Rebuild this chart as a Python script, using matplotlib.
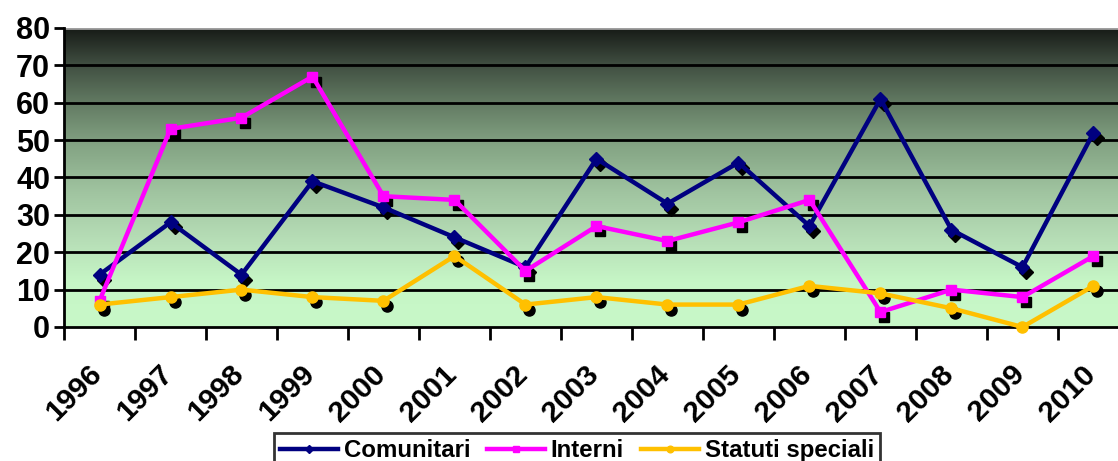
import numpy as np
import matplotlib.pyplot as plt
import matplotlib.transforms as mtransforms
from matplotlib.colors import LinearSegmentedColormap

plt.rcParams['font.family'] = ['Liberation Sans', 'DejaVu Sans']
plt.rcParams['font.weight'] = 'bold'

anni = ['1996', '1997', '1998', '1999', '2000', '2001', '2002', '2003',
        '2004', '2005', '2006', '2007', '2008', '2009', '2010']
comunitari = [14, 28, 14, 39, 32, 24, 16, 45, 33, 44, 27, 61, 26, 16, 52]
interni = [7, 53, 56, 67, 35, 34, 15, 27, 23, 28, 34, 4, 10, 8, 19]
statuti = [6, 8, 10, 8, 7, 19, 6, 8, 6, 6, 11, 9, 5, 0, 11]

W, H = 1118, 461
fig = plt.figure(figsize=(W / 100, H / 100), dpi=100)
# il grafico esce a destra dal riquadro, come nell'originale
ax = fig.add_axes([64 / W, 1 - 327 / H, 1065 / W, 299 / H])

x = np.arange(len(anni))
ax.set_xlim(-0.5, len(anni) - 0.5)
ax.set_ylim(0, 80)

# sfondo sfumato
stops = [(0.0, '#c8f8c8'), (0.15, '#c6f6c6'), (0.3, '#b5dcb5'),
         (0.45, '#a0c4a0'), (0.6, '#85a585'), (0.75, '#627a62'),
         (0.88, '#3f4d40'), (1.0, '#161a16')]
cmap = LinearSegmentedColormap.from_list('sfondo', stops)
grad = np.linspace(0, 1, 256).reshape(-1, 1)
ax.imshow(grad, cmap=cmap, aspect='auto', origin='lower',
          extent=(-0.5, len(anni) - 0.5, 0, 80), zorder=0)

for yv in range(10, 81, 10):
    ax.axhline(yv, color='black', lw=2, zorder=1)

ombra = mtransforms.offset_copy(ax.transData, fig=fig, x=4, y=-5, units='dots')

serie = [(comunitari, '#000080', 'D', 'Comunitari', 7.5),
         (interni, '#ff00ff', 's', 'Interni', 7.5),
         (statuti, '#ffc000', 'o', 'Statuti speciali', 8)]
for vals, col, mk, nome, ms in serie:
    ax.plot(x, vals, ls='none', marker=mk, ms=ms, color='black',
            transform=ombra, zorder=2)
for vals, col, mk, nome, ms in serie:
    ax.plot(x, vals, color=col, lw=3.2, marker=mk, ms=ms, mec=col,
            label=nome, zorder=3, clip_on=False)

ax.set_yticks(range(0, 81, 10))
ax.set_yticklabels([str(v) for v in range(0, 81, 10)], fontsize=22, fontweight='bold')
ax.tick_params(axis='y', direction='out', length=7, width=2, pad=3)

ax.set_xticks(np.arange(len(anni) + 1) - 0.5, minor=False)
ax.set_xticklabels([''] * (len(anni) + 1))
ax.tick_params(axis='x', direction='out', length=9, width=2)
for i, a in enumerate(anni):
    t = mtransforms.offset_copy(ax.transData, fig=fig, x=-12, y=-33, units='dots')
    ax.text(i, 0, a, transform=t, rotation=45, ha='right', va='top',
            rotation_mode='anchor', fontsize=21.5, fontweight='bold', clip_on=False)

for s in ['top', 'right']:
    ax.spines[s].set_visible(False)
ax.spines['left'].set_linewidth(2)
ax.spines['bottom'].set_linewidth(2)
ax.axhline(80, color='#a0a0a0', lw=2, zorder=1)

leg = fig.legend(loc='lower left', bbox_to_anchor=(274 / W, -7 / H), ncol=3,
                 frameon=True, fancybox=False, edgecolor='black',
                 prop={'size': 17.3, 'weight': 'bold'}, handlelength=2.4,
                 columnspacing=0.7, handletextpad=0.25, borderpad=0.25,
                 borderaxespad=0, markerscale=0.6)
leg.get_frame().set_linewidth(2)

fig.savefig('out.png', dpi=100)
